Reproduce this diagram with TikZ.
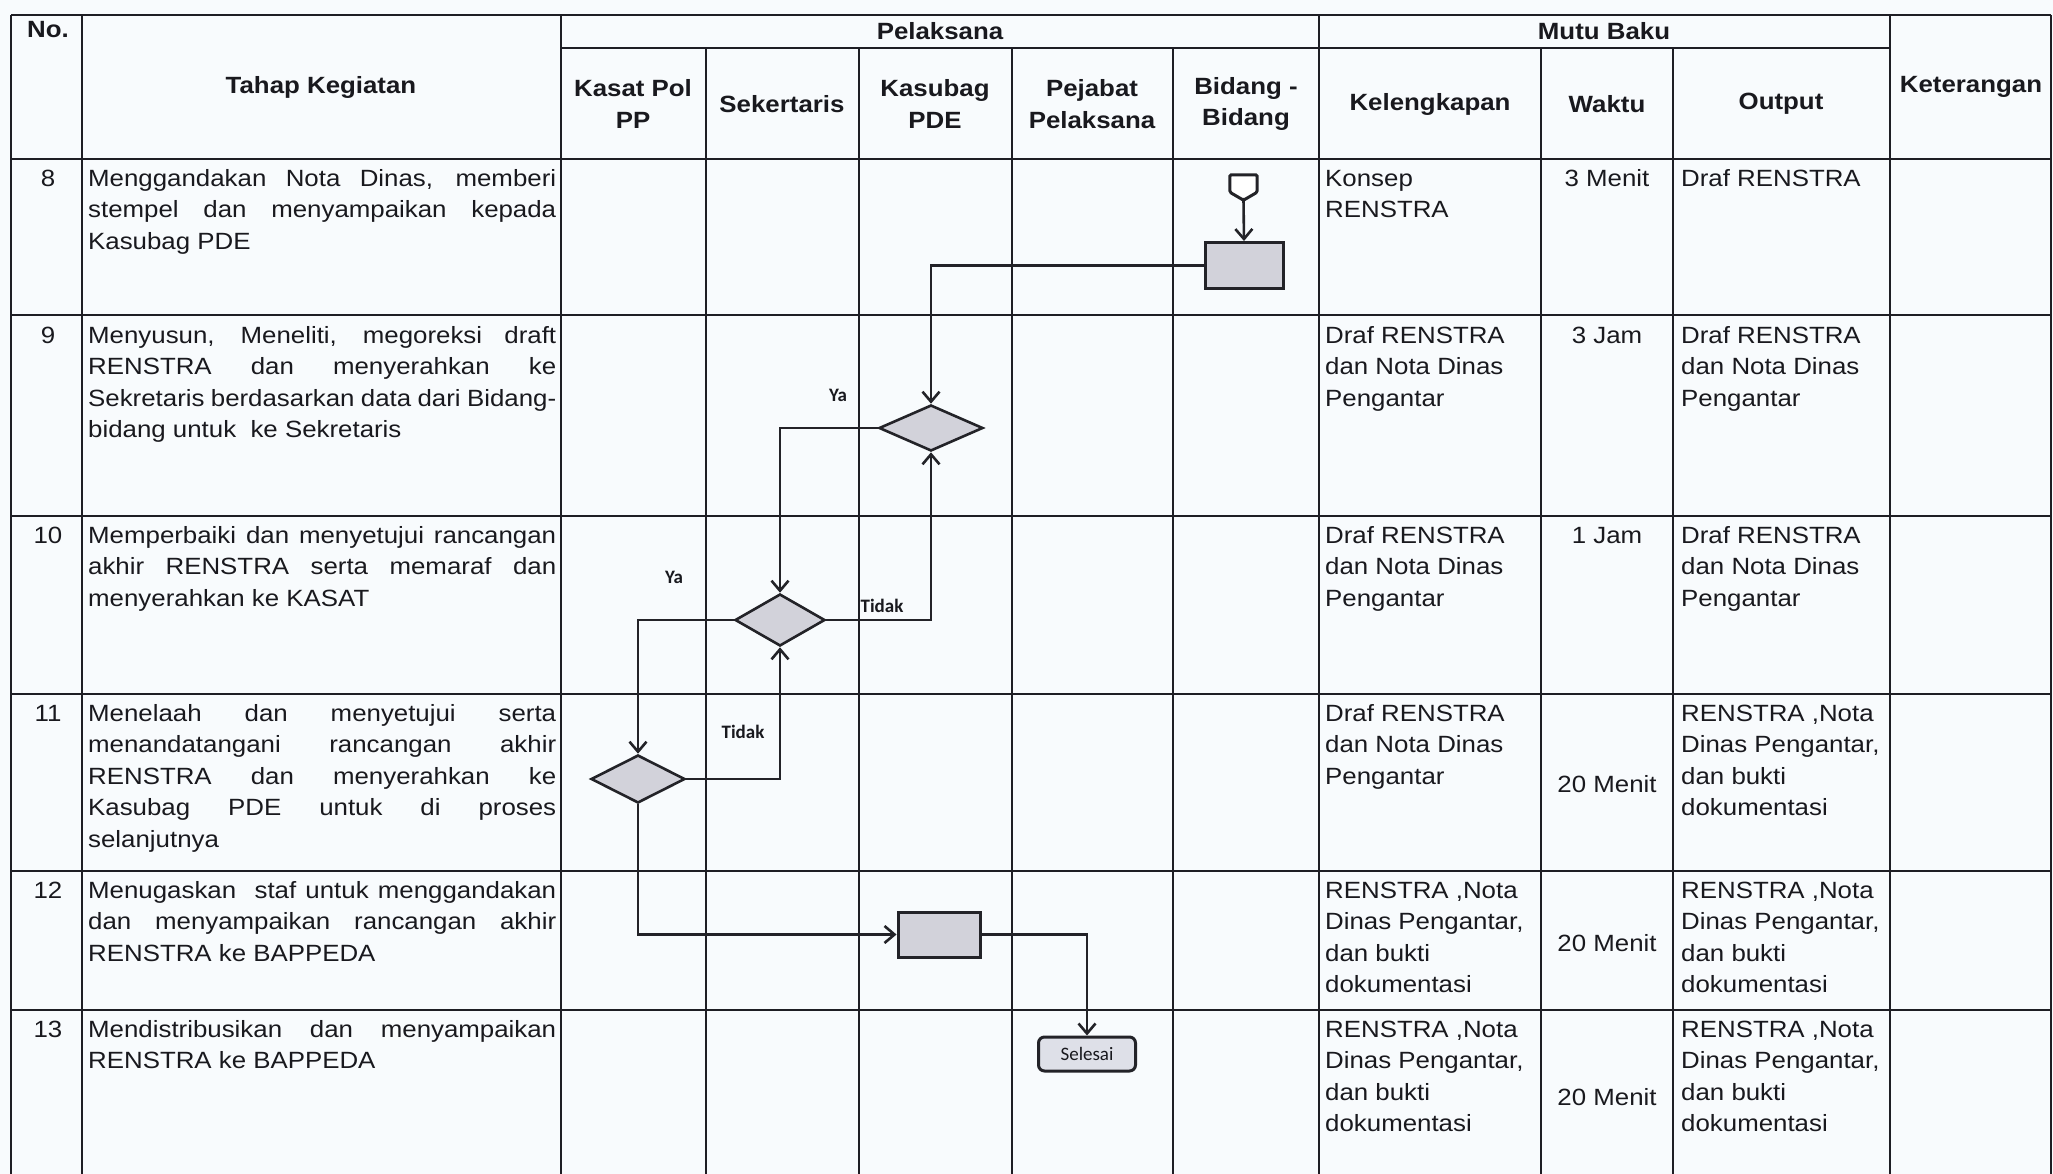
\documentclass[tikz,border=0pt]{standalone}
\usepackage{fontspec}
\setmainfont[FakeStretch=1.1]{Liberation Sans}
\newfontfamily\lblfont{Carlito}
\usetikzlibrary{shapes.geometric,arrows.meta}
\definecolor{bgc}{RGB}{248,251,253}
\definecolor{linec}{RGB}{30,30,36}
\definecolor{flowc}{RGB}{35,35,40}
\definecolor{textc}{RGB}{25,25,30}
\definecolor{shapec}{RGB}{210,210,218}
\definecolor{termc}{RGB}{222,224,232}
\newcommand\jl[1]{\makebox[468pt][s]{#1}\\}
\newcommand\bodyfont{\fontsize{23.5}{31.5}\selectfont}
\newcommand\tstrut{\rule{0pt}{18pt}}
\tikzset{
  tline/.style={line width=2.8pt, draw=linec},
  flow/.style={line width=2.6pt, draw=flowc},
  arr/.style={flow, -{Straight Barb[length=10pt,width=17pt,line width=2.6pt]}},
  proc/.style={draw=flowc, line width=3pt, fill=shapec, minimum width=78pt, minimum height=46pt, inner sep=0},
  dec/.style={diamond, draw=flowc, line width=2.6pt, fill=shapec, inner sep=0},
  term/.style={rounded corners=6pt, draw=flowc, line width=3pt, fill=termc, minimum width=97pt, minimum height=34pt, inner sep=0, text=textc, font=\lblfont\fontsize{19}{19}\selectfont},
  lbl/.style={font=\lblfont\bfseries\fontsize{19}{19}\selectfont, text=textc, inner sep=0},
  cellt/.style={anchor=north west, inner sep=0, align=left, font=\bodyfont, text=textc},
  cellc/.style={anchor=north, inner sep=0, align=center, font=\bodyfont, text=textc},
  cellm/.style={anchor=center, inner sep=0, font=\bodyfont, text=textc},
  hdr/.style={inner sep=0, align=center, font={\bodyfont\bfseries}, text=textc},
}
\begin{document}
\begin{tikzpicture}[x=1pt,y=-1pt]
\useasboundingbox (0,0) rectangle (2053,1174);
\fill[bgc] (0,0) rectangle (2053,1174);

% ---------- table grid ----------
\foreach \x in {11,82,561,1319,1890,2051}
  \draw[tline] (\x,15) -- (\x,1190);
\foreach \x in {706,859,1012,1173,1541,1673}
  \draw[tline] (\x,48) -- (\x,1190);
\draw[tline] (11,15) -- (2051,15);
\draw[tline] (561,48) -- (1890,48);
\foreach \y in {159,315,516,694,871,1010}
  \draw[tline] (11,\y) -- (2051,\y);

% ---------- header ----------
\node[hdr] (hno) at (48,30) {No.};
\node[hdr] (htahap) at (321,87) {Tahap Kegiatan};
\node[hdr] (hpel) at (940,31) {Pelaksana};
\node[hdr] (hmutu) at (1604,31) {Mutu Baku};
\node[hdr] (hkasat) at (633,104) {Kasat Pol\\PP};
\node[hdr] (hsek) at (782,104) {Sekertaris};
\node[hdr] (hkasub) at (935,104) {Kasubag\\PDE};
\node[hdr] (hpej) at (1092,104) {Pejabat\\Pelaksana};
\node[hdr] (hbid) at (1246,104) {Bidang -\\Bidang};
\node[hdr] (hkel) at (1430,104) {Kelengkapan};
\node[hdr] (hwak) at (1607,104) {Waktu};
\node[hdr] (hout) at (1781,104) {Output};
\node[hdr] (hket) at (1971,87) {Keterangan};

% ---------- row 8 ----------
\node[cellc] (n8) at (48,168) {\tstrut 8};
\node[cellt] (t8) at (88,168) {\tstrut\jl{Menggandakan Nota Dinas, memberi}\jl{stempel dan menyampaikan kepada}Kasubag PDE};
\node[cellt] (k8) at (1325,168) {\tstrut Konsep\\RENSTRA};
\node[cellc] (w8) at (1607,168) {\tstrut 3 Menit};
\node[cellt] (o8) at (1681,168) {\tstrut Draf RENSTRA};

% ---------- row 9 ----------
\node[cellc] (n9) at (48,325) {\tstrut 9};
\node[cellt] (t9) at (88,325) {\tstrut\jl{Menyusun, Meneliti, megoreksi draft}\jl{RENSTRA dan menyerahkan ke}\jl{Sekretaris berdasarkan data dari Bidang-}bidang untuk~ ke Sekretaris};
\node[cellt] (k9) at (1325,325) {\tstrut Draf RENSTRA\\dan Nota Dinas\\Pengantar};
\node[cellc] (w9) at (1607,325) {\tstrut 3 Jam};
\node[cellt] (o9) at (1681,325) {\tstrut Draf RENSTRA\\dan Nota Dinas\\Pengantar};

% ---------- row 10 ----------
\node[cellc] (n10) at (48,525) {\tstrut 10};
\node[cellt] (t10) at (88,525) {\tstrut\jl{Memperbaiki dan menyetujui rancangan}\jl{akhir RENSTRA serta memaraf dan}menyerahkan ke KASAT};
\node[cellt] (k10) at (1325,525) {\tstrut Draf RENSTRA\\dan Nota Dinas\\Pengantar};
\node[cellc] (w10) at (1607,525) {\tstrut 1 Jam};
\node[cellt] (o10) at (1681,525) {\tstrut Draf RENSTRA\\dan Nota Dinas\\Pengantar};

% ---------- row 11 ----------
\node[cellc] (n11) at (48,703) {\tstrut 11};
\node[cellt] (t11) at (88,703) {\tstrut\jl{Menelaah dan menyetujui serta}\jl{menandatangani rancangan akhir}\jl{RENSTRA dan menyerahkan ke}\jl{Kasubag PDE untuk di proses}selanjutnya};
\node[cellt] (k11) at (1325,703) {\tstrut Draf RENSTRA\\dan Nota Dinas\\Pengantar};
\node[cellm] (w11) at (1607,784) {20 Menit};
\node[cellt] (o11) at (1681,703) {\tstrut RENSTRA ,Nota\\Dinas Pengantar,\\dan bukti\\dokumentasi};

% ---------- row 12 ----------
\node[cellc] (n12) at (48,880) {\tstrut 12};
\node[cellt] (t12) at (88,880) {\tstrut\jl{Menugaskan~ staf untuk menggandakan}\jl{dan menyampaikan rancangan akhir}RENSTRA ke BAPPEDA};
\node[cellt] (k12) at (1325,880) {\tstrut RENSTRA ,Nota\\Dinas Pengantar,\\dan bukti\\dokumentasi};
\node[cellm] (w12) at (1607,943) {20 Menit};
\node[cellt] (o12) at (1681,880) {\tstrut RENSTRA ,Nota\\Dinas Pengantar,\\dan bukti\\dokumentasi};

% ---------- row 13 ----------
\node[cellc] (n13) at (48,1019) {\tstrut 13};
\node[cellt] (t13) at (88,1019) {\tstrut\jl{Mendistribusikan dan menyampaikan}RENSTRA ke BAPPEDA};
\node[cellt] (k13) at (1325,1019) {\tstrut RENSTRA ,Nota\\Dinas Pengantar,\\dan bukti\\dokumentasi};
\node[cellm] (w13) at (1607,1097) {20 Menit};
\node[cellt] (o13) at (1681,1019) {\tstrut RENSTRA ,Nota\\Dinas Pengantar,\\dan bukti\\dokumentasi};

% ---------- flow shapes ----------
\node[minimum width=27pt, minimum height=25pt, inner sep=0] (start) at (1243.5,187.5) {};
\draw[flow, line width=3pt, fill=white, rounded corners=1.5pt]
  (start.north west) -- (start.north east) -- ([yshift=8pt]start.south east)
  -- (start.south) -- ([yshift=8pt]start.south west) -- cycle;
\node[proc] (b8) at (1244,265.5) {};
\node[dec, minimum width=104pt, minimum height=46pt] (d9) at (931,428) {};
\node[dec, minimum width=90pt, minimum height=52pt] (d10) at (780,620) {};
\node[dec, minimum width=94pt, minimum height=48pt] (d11) at (638,779) {};
\node[proc, minimum width=82pt, minimum height=45pt] (b12) at (939,934.5) {};
\node[term] (sel) at (1087,1054) {Selesai};

% ---------- connectors ----------
\draw[arr] (start.south) -- (b8.north);
\draw[arr] (b8.west) -| (d9.north);
\draw[arr] (d9.west) -| (d10.north);
\draw[arr] (d10.east) -| (d9.south);
\draw[arr] (d10.west) -| (d11.north);
\draw[arr] (d11.east) -| (d10.south);
\draw[arr] (d11.south) |- (b12.west);
\draw[arr] (b12.east) -| (sel.north);

% ---------- labels ----------
\node[lbl] (ya1) at (838,395) {Ya};
\node[lbl] (td1) at (882,606) {Tidak};
\node[lbl] (ya2) at (674,577) {Ya};
\node[lbl] (td2) at (743,732) {Tidak};
\end{tikzpicture}
\end{document}
